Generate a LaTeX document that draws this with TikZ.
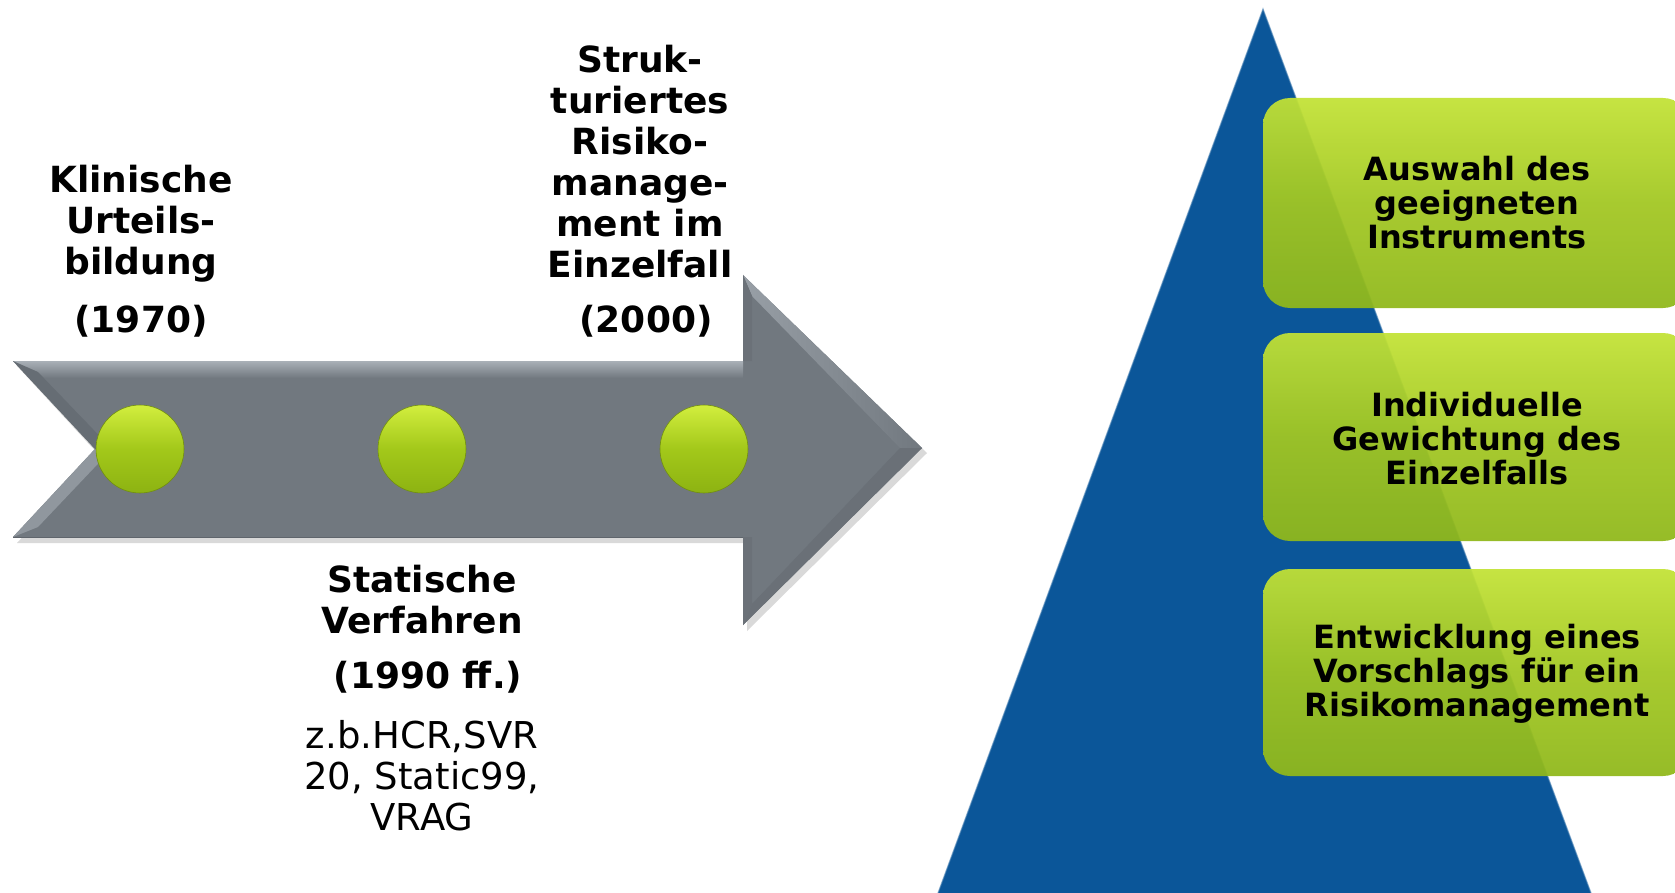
\documentclass[tikz,border=0pt]{standalone}
\usepackage{fontspec}
\setmainfont{DejaVu Sans}
\definecolor{ArrowGray}{HTML}{71787F}
\definecolor{ArrowLight}{HTML}{A9B0B7}
\definecolor{ArrowDark}{HTML}{5F656C}
\definecolor{LimeTop}{HTML}{D2EE3E}
\definecolor{LimeMid}{HTML}{A3C81A}
\definecolor{LimeBot}{HTML}{8DB312}
\definecolor{PyrBlue}{HTML}{0B5699}
\definecolor{BoxTop}{HTML}{C2E236}
\definecolor{BoxMid}{HTML}{A2C722}
\definecolor{BoxBot}{HTML}{90B81B}
\tikzset{
  lbl/.style={font=\fontsize{36}{41}\selectfont\bfseries, align=center, inner sep=0pt},
  plain/.style={font=\fontsize{37}{41}\selectfont, align=center, inner sep=0pt},
  boxtxt/.style={font=\fontsize{32}{34}\selectfont\bfseries, align=center, inner sep=0pt},
  dot/.style={circle, minimum size=88pt, inner sep=0pt, top color=LimeTop, bottom color=LimeBot, middle color=LimeMid, draw=LimeBot!80!black, line width=0.6pt},
  stepbox/.style={rounded corners=27pt, top color=BoxTop, bottom color=BoxBot, middle color=BoxMid, fill opacity=0.94},
}
\begin{document}
\begin{tikzpicture}[x=1pt,y=-1pt]
\useasboundingbox (0,0) rectangle (1675,893);
% arrow shadow
\fill[black!15] (17,366) -- (747,366) -- (747,281) -- (927,453) -- (747,631) -- (747,543) -- (17,543) -- (99,455) -- cycle;
% arrow body
\fill[ArrowGray] (13,361) -- (743,361) -- (743,275) -- (922,448) -- (743,625) -- (743,537) -- (13,537) -- (95,449) -- cycle;
% top highlight band
\shade[top color=ArrowLight, bottom color=ArrowGray] (13,361) -- (743,361) -- (743,378) -- (30,378) -- cycle;
% left notch bevels
\fill[ArrowDark!60!ArrowGray] (13,361) -- (95,449) -- (112,449) -- (38,372) -- cycle;
\fill[ArrowLight!55!ArrowGray] (13,537) -- (95,449) -- (112,449) -- (38,527) -- cycle;
% head bevels
\shade[left color=ArrowLight!70!ArrowGray, right color=ArrowGray] (743,275) -- (922,448) -- (900,448) -- (752,296) -- cycle;
\fill[ArrowDark!35!ArrowGray] (743,275) -- (752,296) -- (752,361) -- (743,361) -- cycle;
\fill[ArrowDark!40!ArrowGray] (743,625) -- (922,448) -- (900,448) -- (752,604) -- cycle;
\fill[ArrowDark!35!ArrowGray] (743,625) -- (752,604) -- (752,537) -- (743,537) -- cycle;
% bottom edge
\draw[ArrowDark, line width=1pt] (13,537) -- (743,537);
% dots
\node[dot] (d1) at (140,449) {};
\node[dot] (d2) at (422,449) {};
\node[dot] (d3) at (704,449) {};
% labels
\node[lbl] (t1) at (141,224) {Klinische\\Urteils-\\bildung};
\node[lbl] (y1) at (141,321) {(1970)};
\node[lbl] (t3) at (640,162) {Struk-\\turiertes\\Risiko-\\manage-\\ment im\\Einzelfall};
\node[lbl] (y3) at (646,321) {(2000)};
\node[lbl] (t2) at (422,600) {Statische\\Verfahren};
\node[lbl] (y2) at (428,677) {(1990 ff.)};
\node[plain] (e2) at (422,776) {z.b.HCR,SVR\\20, Static99,\\VRAG};
% pyramid
\fill[PyrBlue] (1263,9) -- (1591,893) -- (938,893) -- cycle;
\draw[PyrBlue!70!white, line width=1.2pt, opacity=0.6] (938,893) -- (1263,9) -- (1591,893);
% boxes
\path[stepbox] (1263,98) rectangle (1690,308);
\path[stepbox] (1263,333) rectangle (1690,541);
\path[stepbox] (1263,569) rectangle (1690,776);
\node[boxtxt] (b1) at (1477,203) {Auswahl des\\geeigneten\\Instruments};
\node[boxtxt] (b2) at (1477,439) {Individuelle\\Gewichtung des\\Einzelfalls};
\node[boxtxt] (b3) at (1477,674) {Entwicklung eines\\Vorschlags für ein\\Risikomanagement};
\end{tikzpicture}
\end{document}
